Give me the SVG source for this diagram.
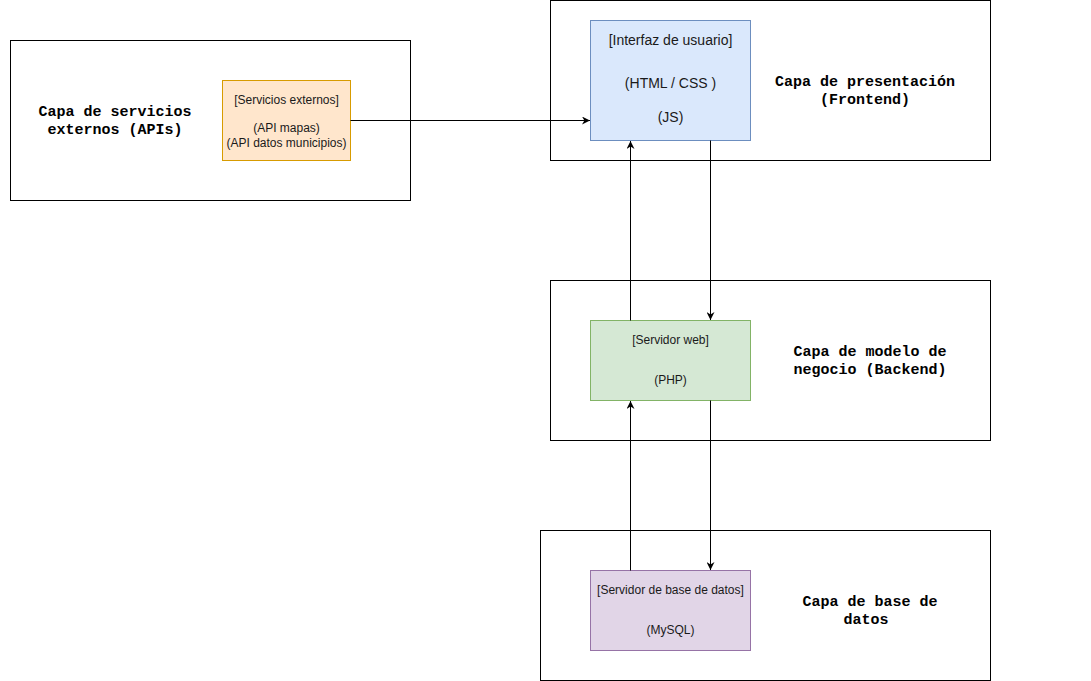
<svg xmlns="http://www.w3.org/2000/svg" width="1091" height="681" viewBox="0 0 1091 681">
  <style>
    .layer { fill: #ffffff; stroke: #000000; stroke-width: 1; }
    .layer-label { font-family: "Liberation Mono", "Courier New", monospace; font-size: 15px; font-weight: bold; fill: #000000; text-anchor: middle; }
    .node-text { font-family: "Liberation Sans", Arial, sans-serif; font-size: 12px; fill: #1a1a1a; text-anchor: middle; }
    .node-text-lg { font-family: "Liberation Sans", Arial, sans-serif; font-size: 14px; fill: #1a1a1a; text-anchor: middle; }
    .edge { fill: none; stroke: #000000; stroke-width: 1; }
  </style>
  <defs>
    <marker id="arrow" viewBox="0 0 10 10" refX="10" refY="5" markerWidth="8" markerHeight="8" markerUnits="userSpaceOnUse" orient="auto">
      <path d="M0,0 L10,5 L0,10 L3,5 Z" fill="#000000"/>
    </marker>
  </defs>
  <rect width="1091" height="681" fill="#ffffff"/>

  <!-- Layer containers -->
  <g id="layer-apis">
    <rect class="layer" x="10.5" y="40.5" width="400" height="160"/>
    <text class="layer-label" x="115" y="116">Capa de servicios</text>
    <text class="layer-label" x="115" y="134">externos (APIs)</text>
  </g>
  <g id="layer-frontend">
    <rect class="layer" x="550.5" y="0.5" width="440" height="160"/>
    <text class="layer-label" x="865" y="86">Capa de presentación</text>
    <text class="layer-label" x="865" y="104">(Frontend)</text>
  </g>
  <g id="layer-backend">
    <rect class="layer" x="550.5" y="280.5" width="440" height="160"/>
    <text class="layer-label" x="870" y="356">Capa de modelo de</text>
    <text class="layer-label" x="870" y="374">negocio (Backend)</text>
  </g>
  <g id="layer-db">
    <rect class="layer" x="540.5" y="530.5" width="450" height="150"/>
    <text class="layer-label" x="870" y="606">Capa de base de</text>
    <text class="layer-label" x="866" y="624">datos</text>
  </g>

  <!-- Components -->
  <g id="node-servicios">
    <rect x="222.5" y="80.5" width="128" height="80" fill="#ffe6cc" stroke="#d79b00"/>
    <text class="node-text" x="286.5" y="104">[Servicios externos]</text>
    <text class="node-text" x="286.5" y="132">(API mapas)</text>
    <text class="node-text" x="286.5" y="147">(API datos municipios)</text>
  </g>
  <g id="node-interfaz">
    <rect x="590.5" y="20.5" width="160" height="120" fill="#dae8fc" stroke="#6c8ebf"/>
    <text class="node-text-lg" x="670.5" y="45">[Interfaz de usuario]</text>
    <text class="node-text-lg" x="670.5" y="88">(HTML / CSS )</text>
    <text class="node-text-lg" x="670.5" y="122">(JS)</text>
  </g>
  <g id="node-servidor-web">
    <rect x="590.5" y="320.5" width="160" height="80" fill="#d5e8d4" stroke="#82b366"/>
    <text class="node-text" x="670.5" y="344">[Servidor web]</text>
    <text class="node-text" x="670.5" y="384">(PHP)</text>
  </g>
  <g id="node-servidor-bd">
    <rect x="590.5" y="570.5" width="160" height="80" fill="#e1d5e7" stroke="#9673a6"/>
    <text class="node-text" x="670.5" y="594">[Servidor de base de datos]</text>
    <text class="node-text" x="670.5" y="634">(MySQL)</text>
  </g>

  <!-- Connectors -->
  <g id="connectors">
    <path class="edge" d="M350.5,120.5 L590,120.5" marker-end="url(#arrow)"/>
    <path class="edge" d="M630.5,320.5 L630.5,141" marker-end="url(#arrow)"/>
    <path class="edge" d="M710.5,140.5 L710.5,320" marker-end="url(#arrow)"/>
    <path class="edge" d="M630.5,570.5 L630.5,401" marker-end="url(#arrow)"/>
    <path class="edge" d="M710.5,400.5 L710.5,570" marker-end="url(#arrow)"/>
  </g>
</svg>
